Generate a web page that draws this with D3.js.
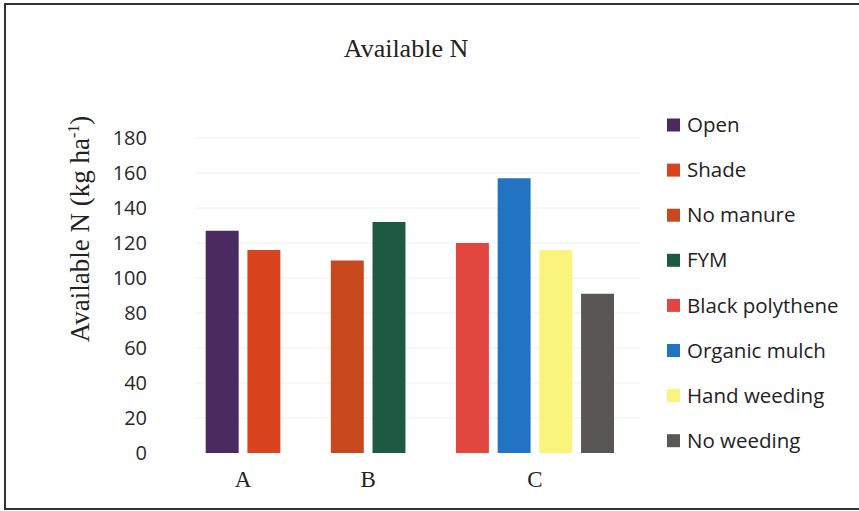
<!DOCTYPE html>
<html>
<head>
<meta charset="utf-8">
<script src="https://cdn.jsdelivr.net/npm/d3@7"></script>
<style>
  html, body { margin: 0; padding: 0; background: #fff; }
  svg { display: block; }
</style>
</head>
<body>
<svg id="chart" width="859" height="511"></svg>
<script>
// Treatment groups and the series shown within each group
const groups = ["A", "B", "C"];
const seriesNames = ["Open", "Shade", "No manure", "FYM", "Black polythene", "Organic mulch", "Hand weeding", "No weeding"];
const seriesGroup = ["A", "A", "B", "B", "C", "C", "C", "C"];
const seriesValues = [127, 116, 110, 132, 120, 157, 116, 91];
const seriesColors = ["#4b2a5f", "#d9441e", "#c9491f", "#1e5a42", "#e1473f", "#2373c3", "#fbf47c", "#5b5656"];
const yTicks = [0, 20, 40, 60, 80, 100, 120, 140, 160, 180];

const svg = d3.select("#chart");

// outer frame
svg.append("rect")
  .attr("x", 5).attr("y", 4).attr("width", 870).attr("height", 505)
  .attr("fill", "none").attr("stroke", "#333").attr("stroke-width", 2);

// bars sit in consecutive slots, with one empty slot between groups
const slots = [];
let slot = 0;
seriesNames.forEach((name, i) => {
  if (i > 0 && seriesGroup[i] !== seriesGroup[i - 1]) slot++;
  slots.push(slot);
  slot++;
});
const slotDomain = d3.range(slot);

const x = d3.scaleBand().domain(slotDomain).range([205.7, 614]).paddingInner(0.21).paddingOuter(0);
const y = d3.scaleLinear().domain([0, 180]).range([453, 138]);

const plotLeft = 195, plotRight = 640;

// faint horizontal gridlines
svg.append("g")
  .selectAll("line")
  .data(yTicks.filter(t => t > 0))
  .join("line")
  .attr("x1", plotLeft).attr("x2", plotRight)
  .attr("y1", d => y(d)).attr("y2", d => y(d))
  .attr("stroke", "#eeeeee").attr("stroke-width", 1);

// y axis (labels only)
const yAxis = svg.append("g")
  .attr("transform", `translate(${plotLeft},0)`)
  .call(d3.axisLeft(y).tickValues(yTicks).tickSize(0).tickPadding(48));
yAxis.select(".domain").remove();
yAxis.selectAll("text")
  .attr("font-family", "'Open Sans', sans-serif")
  .attr("font-size", 20)
  .attr("fill", "#2a2a2a");

// bars
const bars = seriesNames.map((name, i) => ({ name, value: seriesValues[i], color: seriesColors[i], slot: slots[i], group: seriesGroup[i] }));
svg.append("g")
  .selectAll("rect")
  .data(bars)
  .join("rect")
  .attr("x", d => x(d.slot))
  .attr("width", x.bandwidth())
  .attr("y", d => y(d.value))
  .attr("height", d => y(0) - y(d.value))
  .attr("fill", d => d.color);

// group labels centred under each group's bars
svg.append("g")
  .selectAll("text")
  .data(groups)
  .join("text")
  .attr("x", g => {
    const gs = bars.filter(b => b.group === g);
    return (x(gs[0].slot) + x(gs[gs.length - 1].slot) + x.bandwidth()) / 2;
  })
  .attr("y", 487)
  .attr("text-anchor", "middle")
  .attr("font-family", "'Liberation Serif', 'Times New Roman', serif")
  .attr("font-size", 23)
  .attr("fill", "#222")
  .text(d => d);

// title
svg.append("text")
  .attr("x", 406).attr("y", 57)
  .attr("text-anchor", "middle")
  .attr("font-family", "'Liberation Serif', 'Times New Roman', serif")
  .attr("font-size", 26)
  .attr("fill", "#222")
  .text("Available N");

// y axis title with superscript
const yTitle = svg.append("text")
  .attr("transform", "translate(89,229) rotate(-90)")
  .attr("text-anchor", "middle")
  .attr("font-family", "'Liberation Serif', 'Times New Roman', serif")
  .attr("font-size", 27)
  .attr("fill", "#222");
yTitle.append("tspan").text("Available N (kg ha");
yTitle.append("tspan").attr("dy", -10).attr("font-size", 16).text("-1");
yTitle.append("tspan").attr("dy", 10).text(")");

// legend
const legend = svg.append("g")
  .selectAll("g")
  .data(bars)
  .join("g")
  .attr("transform", (d, i) => `translate(667,${125 + i * 45.1})`);
legend.append("rect")
  .attr("x", 0).attr("y", -6.5).attr("width", 13).attr("height", 13)
  .attr("fill", d => d.color);
legend.append("text")
  .attr("x", 20).attr("y", 0)
  .attr("dy", "0.35em")
  .attr("font-family", "'Open Sans', sans-serif")
  .attr("font-size", 20.5)
  .attr("fill", "#222")
  .text(d => d.name);
</script>
</body>
</html>
